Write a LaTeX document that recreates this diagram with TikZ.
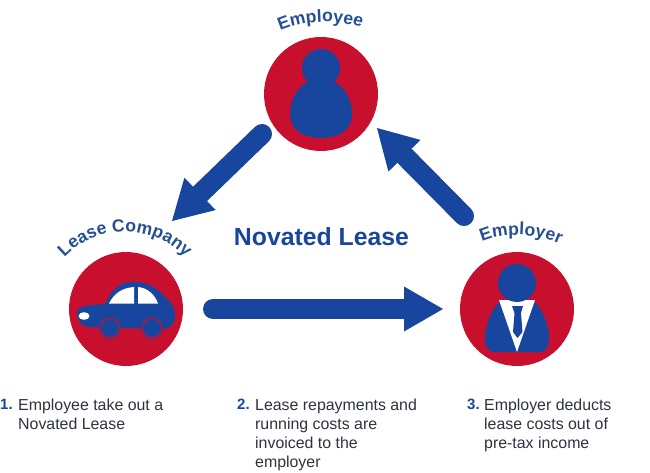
\documentclass[tikz,border=0pt]{standalone}
\usepackage{fontspec}
\setmainfont{Liberation Sans}
\usetikzlibrary{arrows.meta,decorations.text}
\definecolor{nred}{RGB}{200,16,46}
\definecolor{nblue}{RGB}{24,70,158}
\definecolor{ntext}{RGB}{38,80,150}
\definecolor{nbody}{RGB}{45,50,65}
\tikzset{
  x=1pt,y=-1pt,
  disc/.style={circle,fill=nred,draw=none,minimum size=114pt,inner sep=0pt},
  flow/.style={draw=nblue,line width=20pt,line cap=round,-{Triangle[width=45pt,length=39pt,line width=0pt]}},
  icon/.style={fill=nblue,draw=none},
  hole/.style={fill=white,draw=none},
  num/.style={anchor=north west,inner sep=0pt,font=\fontsize{15}{19}\selectfont\bfseries,text=nblue},
  body/.style={anchor=north west,inner sep=0pt,align=left,text=nbody,font=\fontsize{15.9}{19}\selectfont},
}
\begin{document}
\begin{tikzpicture}
\useasboundingbox (0,0) rectangle (650,473);
\node[disc] (employee) at (321,94) {};
\node[disc] (lease) at (126,309) {};
\node[disc] (employer) at (517,309) {};

% arrows
\coordinate (a1s) at (262,134);
\coordinate (a1e) at (172,221);
\coordinate (a2s) at (464,216);
\coordinate (a2e) at (377,128);
\coordinate (a3s) at (213,309);
\coordinate (a3e) at (443,309);
\draw[flow] (a1s) -- (a1e);
\draw[flow] (a2s) -- (a2e);
\draw[flow] (a3s) -- (a3e);

% employee icon
\fill[icon] (321,68) circle[radius=19];
\fill[icon] (307,82) .. controls (297,88) and (290,100) .. (290,114)
  .. controls (290,130) and (303,138) .. (321,138)
  .. controls (339,138) and (352,130) .. (352,114)
  .. controls (352,100) and (345,88) .. (335,82) -- cycle;

% car
\fill[icon] (77,313) .. controls (77,306) and (88,305) .. (105,304)
  .. controls (110,293) and (118,282) .. (131,282)
  .. controls (148,281) and (158,289) .. (165,297)
  .. controls (172,302) and (175,308) .. (175,315)
  .. controls (175,324) and (170,329) .. (163,329)
  -- (88,327) .. controls (80,325) and (77,320) .. (77,313) -- cycle;
\fill[icon] (110,328) circle[radius=11];
\fill[icon] (152,328) circle[radius=11];
\draw[nred,line width=1.2pt] (110,328) circle[radius=9.5];
\draw[nred,line width=1.2pt] (152,328) circle[radius=9.5];
\fill[icon] (110,328) circle[radius=8.5];
\fill[icon] (152,328) circle[radius=8.5];
\fill[hole] (109,303.5) .. controls (114,294) and (121,288) .. (134,287) -- (134,303.5) -- cycle;
\fill[hole] (138,287) .. controls (148,288) and (155,295) .. (158,303.5) -- (138,303.5) -- cycle;
\fill[hole] (84,316) ellipse[x radius=5.5,y radius=3.8];

% employer icon
\fill[icon] (498,303) .. controls (490,313) and (485,326) .. (485,338)
  .. controls (485,347) and (488,352) .. (495,352)
  -- (540,352) .. controls (547,352) and (549,345) .. (549,338)
  .. controls (549,326) and (544,313) .. (536,303) -- cycle;
\fill[hole] (499,300) -- (535,300) -- (517,352) -- cycle;
\fill[icon] (517,283) circle[radius=19];
\fill[icon] (512,306) -- (523,306) -- (521,313) -- (522.5,332) -- (517.5,338) -- (513,332) -- (514.5,313) -- cycle;

% curved labels
\path[decorate,decoration={text along path,text align=center,
  text={|\fontsize{17.6}{17.6}\selectfont\bfseries\color{ntext}|Employee}}]
  (272,35) .. controls (300,19.5) and (340,17.5) .. (370,31);
\path[decorate,decoration={text along path,text align=center,
  text={|\fontsize{17.6}{17.6}\selectfont\bfseries\color{ntext}|Lease Company}}]
  (55,270) .. controls (86,219) and (164,219) .. (195,270);
\path[decorate,decoration={text along path,text align=center,
  text={|\fontsize{17.6}{17.6}\selectfont\bfseries\color{ntext}|Employer}}]
  (474,246) .. controls (495,231) and (540,231) .. (568,248);

\node[anchor=base,inner sep=0pt,font=\fontsize{24.8}{24.8}\selectfont\bfseries,text=nblue] (title) at (321.5,245) {Novated Lease};

% captions
\node[num] (n1) at (0,399) {1.};
\node[body] (t1) at (18,399) {Employee take out a\\Novated Lease};
\node[num] (n2) at (237,399) {2.};
\node[body] (t2) at (255,399) {Lease repayments and\\running costs are\\invoiced to the\\employer};
\node[num] (n3) at (467,399) {3.};
\node[body] (t3) at (484,399) {Employer deducts\\lease costs out of\\pre-tax income};
\end{tikzpicture}
\end{document}
